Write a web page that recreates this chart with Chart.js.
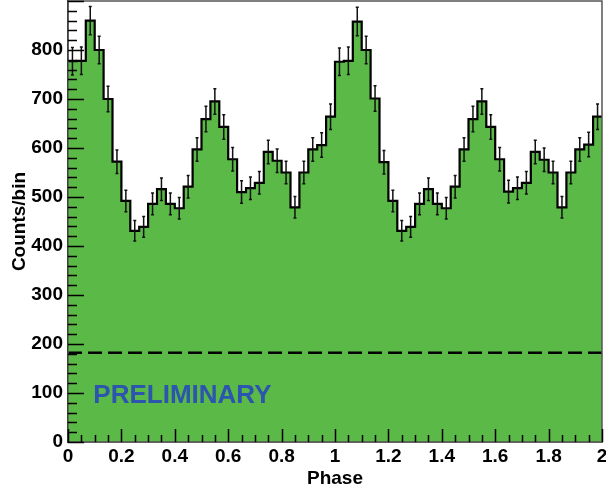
<!DOCTYPE html>
<html>
<head>
<meta charset="utf-8">
<script src="https://cdn.jsdelivr.net/npm/chart.js@4.4.1/dist/chart.umd.min.js"></script>
<style>
  html, body { margin: 0; padding: 0; background: #fff; }
</style>
</head>
<body>
<canvas id="myChart" width="606" height="492"></canvas>
<script>
// counts per phase bin (60 bins over phase 0..2)
var counts = [777, 778, 860, 800, 700, 572, 492, 431, 439, 486,
              516, 486, 477, 521, 597, 659, 695, 643, 577, 510,
              518, 529, 592, 574, 550, 479, 550, 597, 606, 664,
              776, 778, 858, 800, 701, 571, 492, 431, 439, 486,
              516, 486, 477, 521, 597, 659, 695, 643, 577, 511,
              518, 529, 592, 576, 550, 479, 550, 597, 607, 664];
var errors = [28, 28, 29, 28, 26, 24, 22, 21, 21, 22,
              23, 22, 22, 23, 24, 26, 26, 25, 24, 23,
              23, 23, 24, 24, 23, 22, 23, 24, 25, 26,
              28, 28, 29, 28, 26, 24, 22, 21, 21, 22,
              23, 22, 22, 23, 24, 26, 26, 25, 24, 23,
              23, 23, 24, 24, 23, 22, 23, 24, 25, 26];
var phaseMin = 0, phaseMax = 2;
var xTicks = [0, 0.2, 0.4, 0.6, 0.8, 1, 1.2, 1.4, 1.6, 1.8, 2];
var yTicks = [0, 100, 200, 300, 400, 500, 600, 700, 800];
var background = 182;
var stamp = 'PRELIMINARY';

var binWidth = (phaseMax - phaseMin) / counts.length;
var histPoints = counts.map(function(c, i) { return {x: phaseMin + i * binWidth, y: c}; });
histPoints.push({x: phaseMax, y: counts[counts.length - 1]});

var tickFont = {family: 'Liberation Sans, Arial, sans-serif', size: 19, weight: 'bold'};

//===================ROOT style extras: error bars, inner ticks, frame, label==================//
var rootStyle = {
  id: 'rootStyle',
  afterDatasetsDraw: function(chart) {
    var ctx = chart.ctx, xs = chart.scales.x, ys = chart.scales.y, a = chart.chartArea;
    ctx.save();
    // error bars
    ctx.strokeStyle = '#111';
    ctx.lineWidth = 1.5;
    counts.forEach(function(c, i) {
      var px = xs.getPixelForValue(phaseMin + (i + 0.5) * binWidth);
      var top = ys.getPixelForValue(c + errors[i]);
      var bot = ys.getPixelForValue(c - errors[i]);
      ctx.beginPath();
      ctx.moveTo(px, top); ctx.lineTo(px, bot);
      ctx.moveTo(px - 1.5, top); ctx.lineTo(px + 1.5, top);
      ctx.moveTo(px - 1.5, bot); ctx.lineTo(px + 1.5, bot);
      ctx.stroke();
    });
    // frame
    ctx.strokeStyle = '#555';
    ctx.lineWidth = 1.5;
    ctx.strokeRect(a.left, a.top, a.right - a.left, a.bottom - a.top);
    // inner ticks
    ctx.strokeStyle = '#000';
    ctx.lineWidth = 1.5;
    ctx.beginPath();
    for (var v = 0; v <= 900; v += 20) {
      var py = Math.round(ys.getPixelForValue(v)) + 0.5;
      if (py < a.top) continue;
      var len = (v % 100 === 0) ? 16 : 9;
      ctx.moveTo(a.left, py); ctx.lineTo(a.left + len, py);
    }
    for (var k = 0; k <= 40; k++) {
      var px2 = Math.round(xs.getPixelForValue(k * 0.05)) + 0.5;
      var len2 = (k % 4 === 0) ? 13 : 7;
      ctx.moveTo(px2, a.bottom); ctx.lineTo(px2, a.bottom - len2);
    }
    ctx.stroke();
    // stamp
    ctx.fillStyle = '#2b55ae';
    ctx.font = 'bold 26px Liberation Sans, Arial, sans-serif';
    ctx.textBaseline = 'middle';
    ctx.textAlign = 'left';
    ctx.fillText(stamp, xs.getPixelForValue(0.095), ys.getPixelForValue(94));
    ctx.restore();
  }
};

var ctx = document.getElementById('myChart').getContext('2d');
new Chart(ctx, {
  type: 'line',
  data: {
    datasets: [{
      data: [{x: phaseMin, y: background}, {x: phaseMax, y: background}],
      borderColor: '#000',
      borderWidth: 2.5,
      borderDash: [14, 6],
      pointRadius: 0,
      fill: false
    }, {
      data: histPoints,
      stepped: true,
      borderColor: '#000',
      borderWidth: 2.2,
      backgroundColor: '#5bb947',
      pointRadius: 0,
      fill: 'origin'
    }]
  },
  options: {
    responsive: false,
    animation: false,
    devicePixelRatio: 1,
    layout: {padding: {top: 1, right: 4, left: 0, bottom: 0}},
    plugins: {legend: {display: false}, tooltip: {enabled: false}},
    scales: {
      x: {
        type: 'linear',
        min: phaseMin,
        max: phaseMax,
        grid: {display: false, drawTicks: false, tickLength: 0},
        border: {display: true, color: '#000', width: 1.5},
        afterBuildTicks: function(s) { s.ticks = xTicks.map(function(v) { return {value: v}; }); },
        afterFit: function(s) { s.height = 50; s.paddingLeft = 0; s.paddingRight = 0; },
        ticks: {
          autoSkip: false, maxRotation: 0, padding: 3, color: '#000', font: tickFont,
          callback: function(v) { return String(Number(v.toFixed(1))); }
        },
        title: {display: true, text: 'Phase', color: '#000', font: tickFont, padding: {top: 0, bottom: 2}}
      },
      y: {
        min: 0,
        max: 900,
        grid: {display: false, drawTicks: false, tickLength: 0},
        border: {display: true, color: '#000', width: 1.5},
        afterBuildTicks: function(s) { s.ticks = yTicks.map(function(v) { return {value: v}; }); },
        afterFit: function(s) { s.width = 68; s.paddingTop = 0; s.paddingBottom = 0; },
        ticks: {padding: 5, color: '#000', font: tickFont},
        title: {display: true, text: 'Counts/bin', color: '#000', font: tickFont, padding: {top: 8, bottom: 0}}
      }
    }
  },
  plugins: [rootStyle]
});
</script>
</body>
</html>
